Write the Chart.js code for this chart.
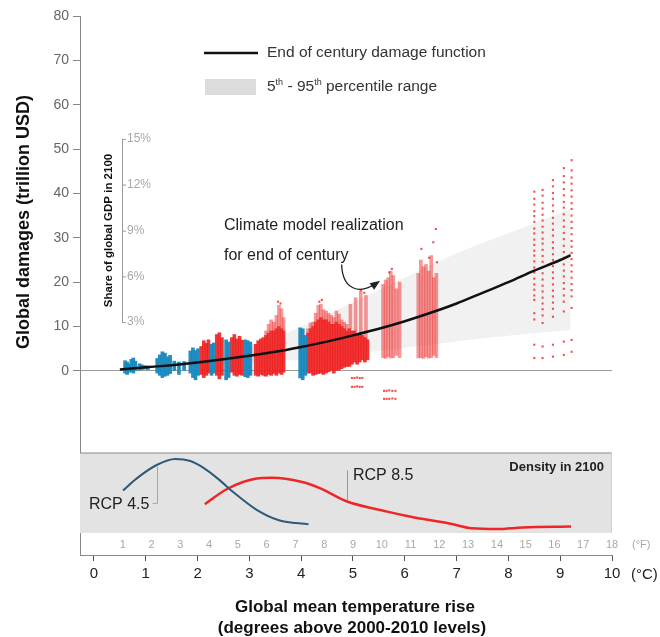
<!DOCTYPE html>
<html><head><meta charset="utf-8">
<script src="https://cdn.jsdelivr.net/npm/chart.js@4.4.1/dist/chart.umd.min.js"></script>
<style>html,body{margin:0;padding:0;background:#fff}canvas{display:block}</style>
</head><body>
<canvas id="c" width="660" height="637"></canvas>
<script>
// ---------- data ----------
const xTicksC = [0,1,2,3,4,5,6,7,8,9,10];
const xTicksF = [1,2,3,4,5,6,7,8,9,10,11,12,13,14,15,16,17,18];
const yTicks = [0,10,20,30,40,50,60,70,80];
const pctLabels = ['3%','6%','9%','12%','15%'];
const pctAtDamage = [11.0,21.3,31.6,42.0,52.3];

// end of century damage function (°C, trillion USD)
const curveT = [0.5,1.0,1.5,2.0,2.5,3.0,3.5,4.0,4.5,5.0,5.5,6.0,6.5,7.0,7.5,8.0,8.5,9.0,9.2];
const curveD = [0.3,0.8,1.3,1.9,2.6,3.4,4.3,5.4,6.6,8.0,9.5,11.2,13.1,15.2,17.6,20.0,22.6,25.0,26.1];

// 5th - 95th percentile range
const bandT  = [0.5,2.0,3.0,4.0,5.0,6.0,7.0,8.0,9.2];
const bandLo = [0.3,1.2,2.0,2.5,3.8,5.2,6.6,7.9,9.2];
const bandHi = [0.3,2.8,5.5,10.0,15.5,21.0,26.5,31.0,36.5];

// density in 2100
const rcp45T = [0.56,0.82,1.21,1.57,1.86,2.10,2.39,2.71,3.14,3.57,4.14];
const rcp45Dens = [0.53,0.68,0.85,0.925,0.90,0.82,0.68,0.50,0.29,0.16,0.11];
const rcp85T = [2.14,2.57,3.14,3.43,4.00,4.36,4.86,5.64,6.14,6.86,7.29,7.79,8.28,9.21];
const rcp85Dens = [0.36,0.55,0.68,0.69,0.64,0.56,0.40,0.27,0.20,0.12,0.06,0.05,0.07,0.08];

// climate model realizations: dense vertical strips [°C, low, high]
const blueStrips = [
 [0.60,-0.5,2.3],[0.64,-0.8,2.0],[0.68,-0.3,1.5],[0.72,-0.2,2.6],[0.76,-0.5,2.9],[0.80,0.0,2.2],
 [0.88,0.2,1.6],[0.92,0.3,1.4],[0.98,0.4,1.2],[1.04,0.3,1.1],
 [1.22,-0.5,2.8],[1.27,-1.0,3.6],[1.32,-1.5,4.3],[1.37,-1.2,4.0],[1.42,-1.0,3.2],[1.47,-0.6,3.5],
 [1.55,0.0,2.2],[1.64,-0.8,2.0],[1.74,0.0,2.1],
 [1.86,-0.5,4.5],[1.91,-1.5,5.2],[1.96,-2.0,4.6],[2.01,-1.0,5.0],
 [2.27,-1.0,6.0],[2.31,-0.5,6.3],
 [2.55,-2.0,7.0],[2.60,-1.5,6.5],
 [2.92,-1.3,7.0],[2.97,-1.5,6.8],[3.02,-1.0,6.5],
 [3.98,-1.6,9.7],[4.03,-2.0,9.5],[4.08,-1.0,8.0]
];
const redStrips = [
 [2.07,-0.8,5.5],[2.12,-1.5,6.8],[2.17,-1.0,6.2],[2.21,-0.5,7.0],
 [2.37,-1.0,8.2],[2.42,-1.8,8.6],[2.47,-1.0,7.5],
 [2.66,-0.3,7.5],[2.71,-1.0,8.2],[2.76,-1.2,7.2],[2.81,-0.8,7.8],[2.86,-1.0,6.9],
 [3.12,-1.0,6.0],[3.17,-1.2,6.8],[3.22,-0.8,7.2],[3.27,-1.0,7.5],[3.32,-1.2,8.0],[3.37,-0.8,8.5],
 [3.42,-1.0,9.0],[3.47,-0.6,9.0],[3.52,-1.0,9.5],[3.57,-0.5,10.0],[3.62,-0.8,9.5],[3.66,-0.3,9.0],
 [4.13,-0.5,8.5],[4.18,-0.5,9.5],[4.23,-1.0,10.0],[4.28,-0.8,11.0],[4.33,-0.6,11.5],[4.38,-0.5,12.0],
 [4.43,-0.8,11.5],[4.48,-0.5,11.5],[4.53,-0.2,11.0],[4.58,0.0,10.5],[4.63,-0.5,10.5],[4.68,0.0,11.0],
 [4.73,0.2,10.5],[4.78,0.5,10.0],[4.83,0.8,9.5],[4.88,1.0,9.0],[4.93,1.0,9.5],[4.98,1.5,9.0],
 [5.03,2.0,9.0],[5.08,1.5,8.5],[5.13,2.0,8.5],[5.18,2.5,8.0],[5.23,2.0,7.5],[5.28,2.5,7.0]
];
const redLightStrips = [
 [3.32,8.0,9.0],[3.37,8.5,10.5],[3.42,9.0,11.5],[3.47,9.0,11.0],[3.52,9.5,12.5],[3.57,10.0,14.8],[3.62,9.5,14.0],[3.66,9.0,12.0],
 [4.13,8.5,9.5],[4.18,9.5,10.8],[4.23,10.0,11.0],[4.28,11.0,13.0],[4.33,11.5,14.8],[4.38,12.0,15.0],[4.43,11.5,13.8],
 [4.48,11.5,13.5],[4.53,11.0,13.0],[4.58,10.5,12.5],[4.63,10.5,12.0],[4.68,11.0,13.5],[4.73,10.5,12.8],[4.78,10.0,11.5],
 [4.83,9.5,11.0],[4.88,9.0,10.5],
 [4.95,9.5,15.0],[5.05,9.0,16.5],[5.15,8.5,18.0],[5.25,7.0,17.0],
 [5.58,3.0,19.5],[5.63,2.8,20.5],[5.68,3.2,21.0],[5.73,2.9,22.5],[5.78,3.0,21.5],[5.84,3.5,18.5],[5.90,3.0,20.0],
 [6.26,2.9,22.0],[6.31,3.0,25.0],[6.36,2.8,23.5],[6.41,3.2,24.0],[6.46,2.9,22.5],[6.51,3.0,26.0],[6.56,3.5,21.0],[6.61,3.0,22.0]
];
// sparse columns of realizations at the highest warming
const redColumns = [
 [8.50,[40.4,38.8,37.5,36.0,34.9,33.6,32.1,31.0,29.6,28.4,27.1,26.0,24.7,23.3,22.2,20.8,19.5,18.3,17.0,16.0,13.0,11.6,5.9,2.9]],
 [8.66,[40.8,39.5,37.9,36.6,35.2,33.9,32.5,31.2,29.8,28.7,27.3,25.9,24.6,23.4,22.0,20.6,19.2,17.9,16.5,15.2,13.9,12.5,10.8,5.5,2.9]],
 [8.86,[43.0,41.6,40.1,38.8,37.3,36.0,34.5,33.2,31.8,30.5,29.0,27.7,26.3,25.0,23.6,22.2,20.9,19.5,18.1,16.8,15.4,14.0,12.2,5.9,3.2]],
 [9.07,[45.7,43.9,42.5,41.0,39.6,38.1,36.8,35.3,33.9,32.5,31.1,29.7,28.2,26.8,25.5,24.0,22.6,21.3,19.8,18.5,17.0,15.6,13.4,6.6,3.6]],
 [9.22,[47.5,45.2,43.6,42.2,40.7,39.3,37.8,36.5,35.0,33.6,32.2,30.8,29.3,28.0,26.6,25.2,23.8,22.4,21.0,19.6,18.2,16.8,14.2,7.0,4.3]]
];
const redScatter = [
 [3.55,15.6],[3.60,15.2],[4.40,16.0],[4.35,15.6],[5.15,18.2],[5.22,17.6],
 [6.32,27.5],[6.55,29.0],[6.60,32.0],[6.47,25.5],[6.62,24.5],[5.75,23.0],[5.70,22.2],
 [4.98,-1.6],[5.03,-1.6],[5.08,-1.5],[5.13,-1.6],[5.18,-1.6],[4.98,-3.6],[5.03,-3.6],[5.08,-3.5],[5.13,-3.6],[5.18,-3.6],
 [5.60,-4.5],[5.65,-4.5],[5.70,-4.4],[5.76,-4.5],[5.82,-4.5],[5.60,-6.3],[5.65,-6.3],[5.70,-6.3],[5.76,-6.2],[5.82,-6.3]
];

// ---------- chart ----------
const FONT = '"Liberation Sans", Arial, Helvetica, sans-serif';
const RED = 'rgba(238,32,32,0.9)';
const BLUE = 'rgba(24,136,190,0.95)';

const toXY = (xs, ys) => xs.map((x, i) => ({x, y: ys[i]}));
const stripData = arr => arr.map(([x, lo, hi]) => ({x, y: [lo, hi]}));
const colData = redColumns.flatMap(([x, ys]) => ys.map(y => ({x, y})))
  .concat(redScatter.map(([x, y]) => ({x, y})));

const decor = {
  id: 'decor',
  beforeDatasetsDraw(chart) {
    const {ctx, chartArea: a, scales: {yd}} = chart;
    const top = yd.getPixelForValue(1), bot = yd.getPixelForValue(0);
    ctx.save();
    ctx.fillStyle = '#e3e3e3';
    ctx.fillRect(a.left, top, a.right - a.left, bot - top);
    ctx.strokeStyle = '#8a8a8a'; ctx.lineWidth = 1.2;
    ctx.beginPath(); ctx.moveTo(a.left, top); ctx.lineTo(a.right, top); ctx.stroke();
    ctx.strokeStyle = '#d0d0d0'; ctx.lineWidth = 1;
    ctx.beginPath(); ctx.moveTo(a.right - 0.5, top); ctx.lineTo(a.right - 0.5, bot); ctx.stroke();
    ctx.restore();
  },
  afterDraw(chart) {
    const {ctx, chartArea: a, scales: {x, y, yd}} = chart;
    ctx.save();
    // y axis title
    ctx.fillStyle = '#111';
    ctx.font = 'bold 18px ' + FONT;
    ctx.textAlign = 'center'; ctx.textBaseline = 'middle';
    ctx.save(); ctx.translate(24, 222); ctx.rotate(-Math.PI / 2);
    ctx.fillText('Global damages (trillion USD)', 0, 0); ctx.restore();
    // x axis title
    ctx.font = 'bold 17px ' + FONT;
    ctx.fillText('Global mean temperature rise', 355, 607);
    ctx.fillText('(degrees above 2000-2010 levels)', 352, 628);
    // unit labels
    ctx.font = '15px ' + FONT; ctx.fillStyle = '#222'; ctx.textAlign = 'left';
    ctx.fillText('(\u00B0C)', a.right + 19, 575);
    // °F labels
    ctx.font = '11px ' + FONT; ctx.fillStyle = '#a8a8a8'; ctx.textAlign = 'center';
    xTicksF.forEach(f => ctx.fillText(String(f), x.getPixelForValue(f / 1.8), 545));
    ctx.textAlign = 'left';
    ctx.fillText('(\u00B0F)', a.right + 20, 545);

    // legend
    ctx.strokeStyle = '#111'; ctx.lineWidth = 2.5;
    ctx.beginPath(); ctx.moveTo(204, 53); ctx.lineTo(258, 53); ctx.stroke();
    ctx.fillStyle = '#dcdcdc'; ctx.fillRect(205, 79, 51, 16);
    ctx.fillStyle = '#333'; ctx.font = '15.5px ' + FONT; ctx.textAlign = 'left'; ctx.textBaseline = 'middle';
    ctx.fillText('End of century damage function', 267, 53);
    let px = 267;
    const seg = (t, sup) => {
      ctx.font = (sup ? '9px ' : '15.5px ') + FONT;
      ctx.fillText(t, px, sup ? 83 : 87);
      px += ctx.measureText(t).width;
    };
    seg('5', false); seg('th', true); seg(' - 95', false); seg('th', true); seg(' percentile range', false);

    // annotation
    ctx.font = '16px ' + FONT; ctx.fillStyle = '#222';
    ctx.fillText('Climate model realization', 224, 226);
    ctx.fillText('for end of century', 224, 256);
    ctx.strokeStyle = '#222'; ctx.lineWidth = 1.3;
    const p = (t, v) => [x.getPixelForValue(t), y.getPixelForValue(v)];
    const s0 = p(4.78, 24.0), c1 = p(4.80, 18.3), c2 = p(5.12, 17.1), e = p(5.46, 19.8);
    ctx.beginPath(); ctx.moveTo(...s0); ctx.bezierCurveTo(...c1, ...c2, ...e); ctx.stroke();
    const ang = Math.atan2(e[1] - c2[1], e[0] - c2[0]);
    ctx.fillStyle = '#222';
    ctx.beginPath();
    ctx.moveTo(e[0] + 4 * Math.cos(ang), e[1] + 4 * Math.sin(ang));
    ctx.lineTo(e[0] - 6 * Math.cos(ang) + 4 * Math.sin(ang), e[1] - 6 * Math.sin(ang) - 4 * Math.cos(ang));
    ctx.lineTo(e[0] - 6 * Math.cos(ang) - 4 * Math.sin(ang), e[1] - 6 * Math.sin(ang) + 4 * Math.cos(ang));
    ctx.closePath(); ctx.fill();

    // GDP share axis
    const ax = 122;
    const pTop = y.getPixelForValue(pctAtDamage[pctAtDamage.length - 1]);
    const pBot = y.getPixelForValue(pctAtDamage[0]);
    ctx.strokeStyle = '#9a9a9a'; ctx.lineWidth = 1;
    ctx.beginPath(); ctx.moveTo(ax + 0.5, pTop); ctx.lineTo(ax + 0.5, pBot); ctx.stroke();
    ctx.font = '12px ' + FONT; ctx.fillStyle = '#a8a8a8'; ctx.textAlign = 'left';
    pctAtDamage.forEach((v, i) => {
      const py = y.getPixelForValue(v);
      ctx.beginPath(); ctx.moveTo(ax, py + 0.5); ctx.lineTo(ax + 4, py + 0.5); ctx.stroke();
      ctx.fillText(pctLabels[i], ax + 5, py);
    });
    ctx.fillStyle = '#111'; ctx.font = 'bold 11.5px ' + FONT; ctx.textAlign = 'center';
    ctx.save(); ctx.translate(109, (pTop + pBot) / 2); ctx.rotate(-Math.PI / 2);
    ctx.fillText('Share of global GDP in 2100', 0, 0); ctx.restore();

    // density panel labels
    ctx.font = 'bold 13px ' + FONT; ctx.textAlign = 'right'; ctx.fillStyle = '#222';
    ctx.fillText('Density in 2100', a.right - 8, yd.getPixelForValue(0.82));
    ctx.font = '16px ' + FONT; ctx.fillStyle = '#222';
    ctx.textAlign = 'right';
    ctx.fillText('RCP 4.5', x.getPixelForValue(1.07), yd.getPixelForValue(0.35));
    ctx.textAlign = 'left';
    ctx.fillText('RCP 8.5', x.getPixelForValue(5.0), yd.getPixelForValue(0.72));
    // leader lines
    ctx.lineWidth = 1;
    ctx.strokeStyle = '#7fb3cf';
    let lx = Math.round(x.getPixelForValue(1.22)) + 0.5;
    ctx.beginPath(); ctx.moveTo(lx, yd.getPixelForValue(0.83)); ctx.lineTo(lx, yd.getPixelForValue(0.37));
    ctx.lineTo(lx - 5, yd.getPixelForValue(0.37)); ctx.stroke();
    ctx.strokeStyle = '#f07070';
    lx = Math.round(x.getPixelForValue(4.88)) + 0.5;
    ctx.beginPath(); ctx.moveTo(lx, yd.getPixelForValue(0.78)); ctx.lineTo(lx, yd.getPixelForValue(0.41)); ctx.stroke();
    ctx.restore();
  }
};

new Chart(document.getElementById('c'), {
  type: 'scatter',
  data: {
    datasets: [
      { type: 'line', label: 'End of century damage function', data: toXY(curveT, curveD),
        borderColor: '#111', borderWidth: 2.5, pointRadius: 0, showLine: true,
        cubicInterpolationMode: 'monotone', order: 0, yAxisID: 'y' },
      { type: 'line', label: 'RCP 4.5 density', data: toXY(rcp45T, rcp45Dens),
        borderColor: '#2f5977', borderWidth: 2, pointRadius: 0, showLine: true,
        cubicInterpolationMode: 'monotone', order: 0, yAxisID: 'yd' },
      { type: 'line', label: 'RCP 8.5 density', data: toXY(rcp85T, rcp85Dens),
        borderColor: '#f02626', borderWidth: 2.5, pointRadius: 0, showLine: true,
        cubicInterpolationMode: 'monotone', order: 0, yAxisID: 'yd' },
      { type: 'scatter', label: 'RCP 8.5 sparse', data: colData, pointStyle: 'rect',
        radius: 1.5, backgroundColor: 'rgba(240,40,40,0.8)', borderWidth: 0, order: 1, yAxisID: 'y' },
      { type: 'bar', label: 'RCP 4.5 realizations', data: stripData(blueStrips), backgroundColor: BLUE,
        borderWidth: 0, barThickness: 3, grouped: false, order: 2, yAxisID: 'y' },
      { type: 'bar', label: 'RCP 8.5 realizations', data: stripData(redStrips), backgroundColor: RED,
        borderWidth: 0, barThickness: 3, grouped: false, order: 3, yAxisID: 'y' },
      { type: 'bar', label: 'RCP 8.5 realizations (sparse)', data: stripData(redLightStrips), backgroundColor: 'rgba(240,50,50,0.5)',
        borderWidth: 0, barThickness: 3, grouped: false, order: 3, yAxisID: 'y' },
      { type: 'line', label: '95th', data: toXY(bandT, bandHi), borderWidth: 0, pointRadius: 0,
        showLine: true, fill: '+1', backgroundColor: '#f1f1f1', borderColor: 'rgba(0,0,0,0)', tension: 0.3, order: 5, yAxisID: 'y' },
      { type: 'line', label: '5th', data: toXY(bandT, bandLo), borderWidth: 0, pointRadius: 0,
        showLine: true, fill: false, borderColor: 'rgba(0,0,0,0)', tension: 0.3, order: 5, yAxisID: 'y' }
    ]
  },
  options: {
    responsive: false, animation: false, devicePixelRatio: 1,
    layout: { padding: { top: 16, right: 48, left: 0, bottom: 0 } },
    plugins: { legend: { display: false }, tooltip: { enabled: false } },
    scales: {
      x: {
        type: 'linear', position: 'bottom', min: -0.27, max: 10, offset: false,
        afterBuildTicks: s => { s.ticks = xTicksC.map(v => ({value: v})); },
        afterFit: s => { s.height = 82; },
        grid: { offset: false, drawOnChartArea: false, drawTicks: true, tickLength: 6, tickColor: '#555' },
        border: { color: '#888', width: 1 },
        ticks: { font: { family: FONT, size: 15 }, color: '#222', padding: 4, maxRotation: 0 }
      },
      y: {
        type: 'linear', position: 'left', min: -41.5, max: 80,
        afterBuildTicks: s => { s.ticks = yTicks.map(v => ({value: v})); },
        afterFit: s => { s.width = 80; },
        grid: { color: c => (c.tick && c.tick.value === 0 ? '#9a9a9a' : 'rgba(0,0,0,0)'),
                tickColor: '#888', tickLength: 7, drawTicks: true },
        border: { color: '#888', width: 1 },
        ticks: { font: { family: FONT, size: 14 }, color: '#666', padding: 4 }
      },
      yd: { type: 'linear', display: false, min: -0.275, max: 6.4625 }
    }
  },
  plugins: [decor]
});
</script>
</body></html>
